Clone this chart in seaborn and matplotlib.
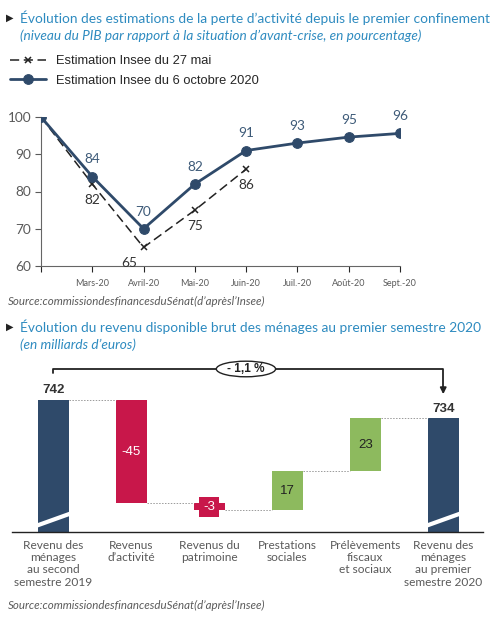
import numpy as np
import pandas as pd
import matplotlib.pyplot as plt
import seaborn as sns
from matplotlib.patches import Ellipse

# --- data: top chart (PIB level vs pre-crisis, %)
months = ["", "Mars-20", "Avril-20", "Mai-20", "Juin-20", "Juil.-20", "Août-20", "Sept.-20"]
est_oct = [100, 84, 70, 82, 91, 93, 94.6, 95.6]
est_mai = [100, 82, 65, 75, 86]

# --- data: bottom chart (revenu disponible brut, Md€)
wf_cats = ["Revenu des\nménages\nau second\nsemestre 2019", "Revenus\nd’activité",
           "Revenus du\npatrimoine", "Prestations\nsociales",
           "Prélèvements\nfiscaux\net sociaux", "Revenu des\nménages\nau premier\nsemestre 2020"]
start_val = 742
deltas = [-45, -3, 17, 23]
end_val = 734

sns.set_style("white")
plt.rcParams["font.family"] = ["Liberation Sans", "DejaVu Sans"]

NAVY = "#2f4a6a"
RED = "#c8174a"
GREEN = "#8dba5e"
BLUE_T = "#2e8bc0"
GREY = "#5a5a5a"

fig = plt.figure(figsize=(4.98, 6.17), dpi=100)

# titles
fig.text(6 / 498, 1 - 18 / 617, "▶", fontsize=7, color="#222", va="center", family="DejaVu Sans")
fig.text(20 / 498, 1 - 18 / 617, "Évolution des estimations de la perte d’activité depuis le premier confinement",
         fontsize=9.9, color=BLUE_T, va="center", family="Lato")
fig.text(20 / 498, 1 - 36 / 617, "(niveau du PIB par rapport à la situation d’avant-crise, en pourcentage)",
         fontsize=9.8, color=BLUE_T, va="center", family="Lato", style="italic")

# --- top chart
ax1 = fig.add_axes([41 / 498, 1 - 266 / 617, 359 / 498, 149 / 617])
df_oct = pd.DataFrame({"x": range(len(est_oct)), "v": est_oct})
df_mai = pd.DataFrame({"x": range(len(est_mai)), "v": est_mai})

sns.lineplot(data=df_mai, x="x", y="v", ax=ax1, color="#222", linestyle=(0, (6, 3)), linewidth=1.1,
             marker="x", markersize=5, markeredgewidth=1.1, markeredgecolor="#222",
             label="Estimation Insee du 27 mai", zorder=2)
sns.lineplot(data=df_oct, x="x", y="v", ax=ax1, color=NAVY, linewidth=2, marker="o", markersize=7,
             markeredgecolor=NAVY, label="Estimation Insee du 6 octobre 2020", zorder=3)

for i, v in enumerate(est_oct):
    if i == 0:
        continue
    ax1.annotate(f"{v:.0f}", (i, v), xytext=(0, 8), textcoords="offset points",
                 ha="center", va="bottom", fontsize=9.8, color="#3d5a78", family="Lato")
for i, v in enumerate(est_mai):
    if i == 0:
        continue
    dx = -10 if i == 2 else 0
    ax1.annotate(f"{v:.0f}", (i, v), xytext=(dx, -7), textcoords="offset points",
                 ha="center", va="top", fontsize=9.8, color="#333", family="Lato")

ax1.set_xlim(0, 7)
ax1.set_ylim(60, 100)
ax1.set_yticks([60, 70, 80, 90, 100])
ax1.set_yticklabels(["60", "70", "80", "90", "100"], family="Lato")
ax1.set_xticks(range(len(months)))
ax1.set_xticklabels(months, fontsize=6.5, color=GREY, family="Lato")
ax1.tick_params(axis="y", labelsize=9.8, colors=GREY, length=4, width=0.8, left=True, pad=3)
ax1.tick_params(axis="x", length=4, width=0.8, bottom=True, pad=5)
ax1.set_xlabel("")
ax1.set_ylabel("")
for s in ["top", "right"]:
    ax1.spines[s].set_visible(False)
for s in ["left", "bottom"]:
    ax1.spines[s].set_color("#666")
    ax1.spines[s].set_linewidth(0.8)

leg = ax1.legend(loc="upper left", bbox_to_anchor=(10 / 498, 1 - 55 / 617), bbox_transform=fig.transFigure,
                 frameon=False, fontsize=9.3, handlelength=2.8, handletextpad=0.8, labelspacing=0.6,
                 borderaxespad=0, borderpad=0)

fig.text(8 / 498, 1 - 301 / 617, "Source:commissiondesfinancesduSénat(d’aprèsl’Insee)",
         fontsize=8.3, color=GREY, style="italic", family="Lato", va="center")

# --- bottom titles
fig.text(6 / 498, 1 - 327 / 617, "▶", fontsize=7, color="#222", va="center", family="DejaVu Sans")
fig.text(20 / 498, 1 - 327 / 617, "Évolution du revenu disponible brut des ménages au premier semestre 2020",
         fontsize=9.9, color=BLUE_T, va="center", family="Lato")
fig.text(20 / 498, 1 - 345 / 617, "(en milliards d’euros)",
         fontsize=9.8, color=BLUE_T, va="center", family="Lato", style="italic")

# --- waterfall
levels = np.cumsum([start_val] + deltas)
bottoms = [0] + [min(levels[i], levels[i + 1]) for i in range(len(deltas))] + [0]
heights = [start_val] + [abs(d) for d in deltas] + [end_val]
colors = [NAVY] + [RED if d < 0 else GREEN for d in deltas] + [NAVY]
df_wf = pd.DataFrame({"cat": wf_cats, "h": heights})

ax2 = fig.add_axes([12 / 498, 1 - 532 / 617, 471 / 498, (532 - 355) / 617])
sns.barplot(data=df_wf, x="cat", y="h", color=NAVY, ax=ax2, order=wf_cats,
            bottom=bottoms, width=0.4, saturation=1, edgecolor="none")
for patch, c in zip(ax2.patches, colors):
    patch.set_facecolor(c)
ymin = 684.4
ax2.set_ylim(ymin, 761.6)
ax2.set_xlim(-0.53, 5.51)

# connectors
conn = [start_val] + list(levels[1:])
for i, lv in enumerate(conn):
    ax2.hlines(lv, i + 0.2, i + 0.8, colors="#9a9a9a", linestyles=(0, (1.5, 1.5)), linewidth=0.7, zorder=1)

# value labels
ax2.text(0, start_val + 1.5, f"{start_val}", ha="center", va="bottom", fontsize=9.5, color="#333",
         fontweight="bold")
ax2.text(5, end_val + 1.5, f"{end_val}", ha="center", va="bottom", fontsize=9.5, color="#333",
         fontweight="bold")
for i, d in enumerate(deltas, start=1):
    mid = bottoms[i] + heights[i] / 2
    if d < 0 and abs(d) < 5:
        ax2.text(i, mid, f"{d}", ha="center", va="center", fontsize=9.5, color="white",
                 bbox=dict(boxstyle="square,pad=0.3", fc=RED, ec="none"))
    elif d < 0:
        ax2.text(i, mid, f"{d}", ha="center", va="center", fontsize=9.5, color="white")
    else:
        ax2.text(i, mid, f"{d}", ha="center", va="center", fontsize=9.5, color="#222")

# axis breaks on total bars
for i in [0, 5]:
    ax2.plot([i - 0.26, i + 0.24], [686.6, 692.7], color="white", linewidth=3, solid_capstyle="butt",
             zorder=5, clip_on=False)

# bracket with variation
yb = 755.5
ax2.plot([0, 0, 5, 5], [753.6, yb, yb, 746.5], color="#222", linewidth=1.3, clip_on=False, zorder=4)
ax2.annotate("", xy=(5, 743.3), xytext=(5, 747.5),
             arrowprops=dict(arrowstyle="-|>", color="#222", lw=1.3, mutation_scale=9))
ax2.add_patch(Ellipse((2.47, yb), 0.76, 6.8, fc="white", ec="#222", lw=1, zorder=6))
ax2.text(2.47, yb, "- 1,1 %", ha="center", va="center", fontsize=8.5, color="#222",
         fontweight="bold", zorder=7)

ax2.set_yticks([])
ax2.set_xlabel("")
ax2.set_ylabel("")
ax2.set_xticks(range(len(wf_cats)))
ax2.set_xticklabels(wf_cats, fontsize=8.6, color=GREY, family="Lato", linespacing=1.12)
ax2.tick_params(axis="x", length=0, pad=6)
for s in ["top", "right", "left"]:
    ax2.spines[s].set_visible(False)
ax2.spines["bottom"].set_color("#222")
ax2.spines["bottom"].set_linewidth(1)
ax2.spines["bottom"].set_zorder(6)

fig.text(8 / 498, 1 - 605 / 617, "Source:commissiondesfinancesduSénat(d’aprèsl’Insee)",
         fontsize=8.3, color=GREY, style="italic", family="Lato", va="center")

fig.savefig("out.png", dpi=100)
